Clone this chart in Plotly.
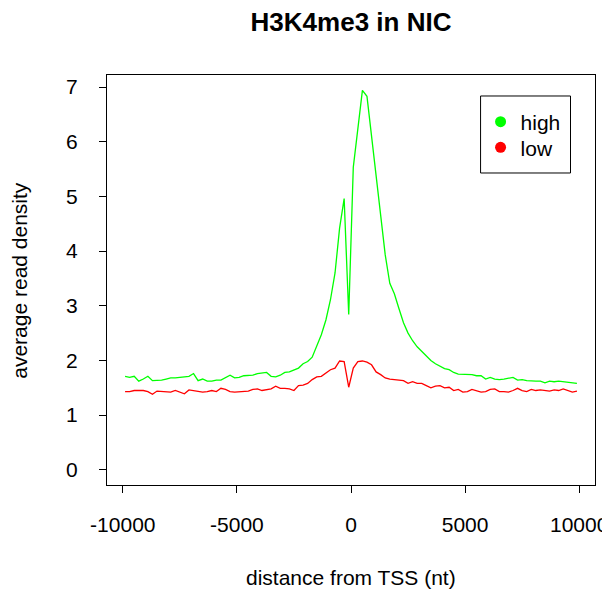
import plotly.graph_objects as go

# distance bins (nt), one every 200 nt
distance = list(range(-9900, 9901, 200))

high = [1.71, 1.69, 1.71, 1.62, 1.66, 1.71, 1.63, 1.63, 1.64, 1.66,
        1.68, 1.68, 1.69, 1.69, 1.71, 1.76, 1.63, 1.66, 1.62, 1.62,
        1.64, 1.64, 1.68, 1.73, 1.68, 1.69, 1.72, 1.73, 1.73, 1.76,
        1.77, 1.78, 1.71, 1.70, 1.73, 1.78, 1.79, 1.82, 1.86, 1.94,
        1.98, 2.06, 2.26, 2.47, 2.74, 3.11, 3.60, 4.42, 4.96, 2.84,
        5.53, 6.25, 6.94, 6.83, 6.09, 5.36, 4.62, 3.93, 3.41, 3.22,
        2.95, 2.69, 2.50, 2.36, 2.25, 2.17, 2.08, 2.00, 1.94, 1.89,
        1.85, 1.83, 1.78, 1.75, 1.75, 1.75, 1.74, 1.72, 1.72, 1.66,
        1.69, 1.66, 1.65, 1.66, 1.67, 1.69, 1.64, 1.65, 1.63, 1.62,
        1.62, 1.62, 1.59, 1.62, 1.61, 1.62, 1.61, 1.60, 1.59, 1.58]

low = [1.43, 1.43, 1.45, 1.45, 1.45, 1.43, 1.38, 1.44, 1.43, 1.42,
       1.42, 1.45, 1.42, 1.39, 1.46, 1.45, 1.43, 1.42, 1.43, 1.45,
       1.43, 1.49, 1.47, 1.43, 1.42, 1.43, 1.43, 1.44, 1.47, 1.48,
       1.45, 1.46, 1.48, 1.53, 1.49, 1.49, 1.48, 1.45, 1.54, 1.55,
       1.58, 1.65, 1.70, 1.71, 1.77, 1.83, 1.86, 1.99, 1.98, 1.51,
       1.86, 1.98, 1.99, 1.97, 1.92, 1.79, 1.74, 1.68, 1.66, 1.65,
       1.64, 1.63, 1.58, 1.61, 1.58, 1.58, 1.54, 1.50, 1.53, 1.54,
       1.50, 1.51, 1.45, 1.47, 1.42, 1.43, 1.47, 1.45, 1.42, 1.43,
       1.47, 1.48, 1.43, 1.43, 1.42, 1.45, 1.49, 1.45, 1.43, 1.47,
       1.45, 1.46, 1.45, 1.44, 1.46, 1.45, 1.48, 1.45, 1.42, 1.44]

x_ticks = [-10000, -5000, 0, 5000, 10000]
x_ticklabels = ["-10000", "-5000", "0", "5000", "10000"]
y_ticks = [0, 1, 2, 3, 4, 5, 6, 7]
y_ticklabels = ["0", "1", "2", "3", "4", "5", "6", "7"]

series_names = ["high", "low"]
series_colors = ["#00FF00", "#FF0000"]
legend_ids = ["legend", "legend2"]

FONT = "Liberation Sans, Arial, Helvetica, sans-serif"

fig = go.Figure()
for name, vals, col in zip(series_names, [high, low], series_colors):
    fig.add_trace(go.Scatter(x=distance, y=vals, mode="lines",
                             line=dict(color=col, width=1.3),
                             showlegend=False, hoverinfo="skip"))
for name, col, lg in zip(series_names, series_colors, legend_ids):
    fig.add_trace(go.Scatter(x=[None], y=[None], mode="markers", name=name,
                             marker=dict(color=col, size=11), legend=lg))

axis_common = dict(showgrid=False, zeroline=False, showline=True, mirror=True,
                   linecolor="black", linewidth=1, ticks="outside", ticklen=7,
                   tickwidth=1, tickcolor="black",
                   tickfont=dict(family=FONT, size=21, color="black"))

fig.update_xaxes(range=[-10692, 10692], tickvals=x_ticks, ticktext=x_ticklabels,
                 ticklabelstandoff=14, **axis_common)
fig.update_yaxes(range=[-0.278, 7.22], tickvals=y_ticks, ticktext=y_ticklabels,
                 ticklabelstandoff=17, **axis_common)

legend_common = dict(x=0.7655, xanchor="left", yanchor="middle",
                     bgcolor="rgba(0,0,0,0)", borderwidth=0,
                     font=dict(family=FONT, size=21, color="black"))

fig.update_layout(
    width=602, height=583,
    margin=dict(l=99.3, r=14.5, t=67, b=106, autoexpand=False),
    plot_bgcolor="white", paper_bgcolor="white",
    font=dict(family=FONT, color="black"),
    title=dict(text="<b>H3K4me3 in NIC</b>", x=0.5, xref="paper",
               y=1 - 14 / 583, yref="container", yanchor="middle",
               xanchor="center", font=dict(family=FONT, size=26, color="black")),
    legend=dict(y=0.8854, **legend_common),
    legend2=dict(y=0.8227, **legend_common),
    shapes=[dict(type="rect", xref="paper", yref="paper",
                 x0=0.7655, x1=0.9498, y0=0.761, y1=0.9488,
                 line=dict(color="black", width=1))],
    annotations=[
        dict(text="distance from TSS (nt)", xref="paper", yref="paper",
             x=0.5, y=-0.2268, xanchor="center", yanchor="middle",
             showarrow=False, font=dict(family=FONT, size=21, color="black")),
        dict(text="average read density", xref="paper", yref="paper",
             x=-0.1808, y=0.5, xanchor="center", yanchor="middle",
             textangle=-90, showarrow=False,
             font=dict(family=FONT, size=21, color="black")),
    ],
)

fig.write_html("out.html")
